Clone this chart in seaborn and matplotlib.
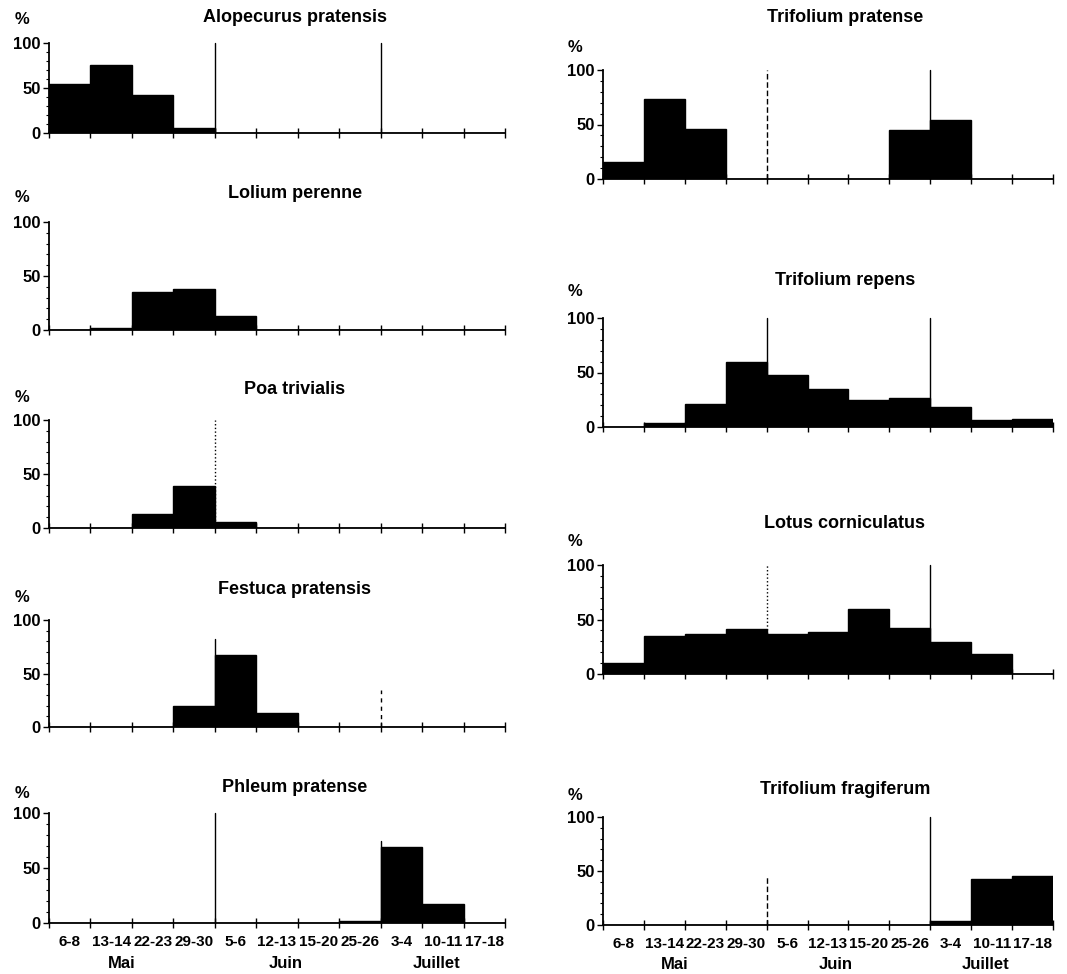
import pandas as pd
import matplotlib
matplotlib.use("Agg")
import matplotlib.pyplot as plt
import matplotlib.transforms as mtransforms
import seaborn as sns

# Data
periods = ["6-8", "13-14", "22-23", "29-30", "5-6", "12-13", "15-20",
           "25-26", "3-4", "10-11", "17-18"]
months = ["Mai", "Juin", "Juillet"]

alopecurus = [54, 76, 42, 6, 0, 0, 0, 0, 0, 0, 0]
lolium = [0, 1.5, 35, 38, 13, 0, 0, 0, 0, 0, 0]
poa = [0, 0, 13, 39, 5.5, 0, 0, 0, 0, 0, 0]
festuca = [0, 0, 0, 20, 67, 13, 0, 0, 0, 0, 0]
phleum = [0, 0, 0, 0, 0, 0, 0, 1.5, 69, 17.5, 0]
tri_pratense = [15.5, 73, 46, 0, 0, 0, 0, 45, 54, 0, 0]
tri_repens = [0, 3.7, 21.5, 60, 48, 35, 25, 27, 18.5, 6, 7]
lotus = [10, 34.5, 37, 41.5, 36.5, 38.5, 60, 42.5, 29.5, 18.5, 0]
fragiferum = [0, 0, 0, 0, 0, 0, 0, 0, 4, 43, 45]

# Layout (pixels): name, values, x_left, x_right, y_100, y_0, title_y, pct_y, month lines
W, H = 1067, 974
panels = [
    ("Alopecurus pratensis", alopecurus, 49, 505, 43, 133, 17, 20,
     [(3.5, "-", 100), (7.5, "-", 100)]),
    ("Lolium perenne", lolium, 49, 505, 222, 330, 193, 197, []),
    ("Poa trivialis", poa, 49, 505, 420, 528, 390, 398, [(3.5, ":", 100)]),
    ("Festuca pratensis", festuca, 49, 505, 620, 727, 589, 597,
     [(3.5, "-", 82), (7.5, (0, (3, 3)), 35)]),
    ("Phleum pratense", phleum, 49, 505, 813, 923, 788, 793,
     [(3.5, "-", 100), (7.5, "-", 75)]),
    ("Trifolium pratense", tri_pratense, 603, 1053, 70, 179, 18, 47,
     [(3.5, (0, (4, 2)), 100), (7.5, "-", 100)]),
    ("Trifolium repens", tri_repens, 603, 1053, 318, 427, 281, 292,
     [(3.5, "-", 100), (7.5, "-", 100)]),
    ("Lotus corniculatus", lotus, 603, 1053, 565, 674, 523, 542,
     [(3.5, ":", 100), (7.5, "-", 100)]),
    ("Trifolium fragiferum", fragiferum, 603, 1053, 817, 925, 790, 795,
     [(3.5, (0, (4, 2)), 45), (7.5, "-", 100)]),
]
bottom_panels = ["Phleum pratense", "Trifolium fragiferum"]
month_pos = [1.25, 5.2, 8.85]

sns.set_style("ticks")
plt.rcParams["font.family"] = ["Liberation Sans", "DejaVu Sans"]
plt.rcParams.update({"text.color": "black", "xtick.color": "black",
                     "ytick.color": "black", "axes.edgecolor": "black"})

fig = plt.figure(figsize=(W / 100, H / 100), dpi=100)
fig.patch.set_facecolor("white")

for name, vals, xl, xr, y100, y0, ty, py, vlines in panels:
    ax = fig.add_axes([xl / W, 1 - y0 / H, (xr - xl) / W, (y0 - y100) / H])
    df = pd.DataFrame({"period": periods, "pct": vals})
    sns.barplot(data=df, x="period", y="pct", color="black", width=1.0,
                saturation=1, edgecolor="black", linewidth=1.0, ax=ax)
    ax.set_xlim(-0.5, 10.5)
    ax.set_ylim(0, 100)
    ax.set_xlabel("")
    ax.set_ylabel("")
    ax.set_facecolor("none")
    sns.despine(ax=ax)
    for sp in ["left", "bottom"]:
        ax.spines[sp].set_linewidth(1.3)
        ax.spines[sp].set_color("black")

    ax.set_yticks([0, 50, 100])
    ax.set_yticks(range(0, 101, 10), minor=True)
    ax.tick_params(axis="y", which="major", length=4, width=1, labelsize=12,
                   pad=2, direction="out", colors="black")
    ax.tick_params(axis="y", which="minor", length=2, width=0.8, direction="out")
    for lab in ax.get_yticklabels():
        lab.set_fontweight("bold")

    ax.set_xticks([b - 0.5 for b in range(12)], minor=True)
    ax.tick_params(axis="x", which="minor", length=7, width=1, direction="inout")
    ax.tick_params(axis="x", which="major", length=0, labelsize=11, pad=9,
                   colors="black")
    if name in bottom_panels:
        ax.set_xticks(range(len(periods)))
        ax.set_xticklabels(periods, fontweight="bold")
        trans = mtransforms.blended_transform_factory(ax.transData, ax.transAxes)
        for m, pos in zip(months, month_pos):
            ax.text(pos, -0.37, m, transform=trans, ha="center", va="center",
                    fontsize=12, fontweight="bold", color="black")
    else:
        ax.tick_params(axis="x", which="major", labelbottom=False)

    for xv, ls, top in vlines:
        ax.plot([xv, xv], [0, top], color="black", lw=1, ls=ls, clip_on=False)

    xc = 295 if xl < 300 else 845
    fig.text(xc / W, 1 - ty / H, name, ha="center", va="center",
             fontsize=13, fontweight="bold", color="black")
    fig.text((22 if xl < 300 else 575) / W, 1 - py / H, "%", ha="center",
             va="center", fontsize=12, fontweight="bold", color="black")

fig.savefig("out.png", dpi=100, facecolor="white")
